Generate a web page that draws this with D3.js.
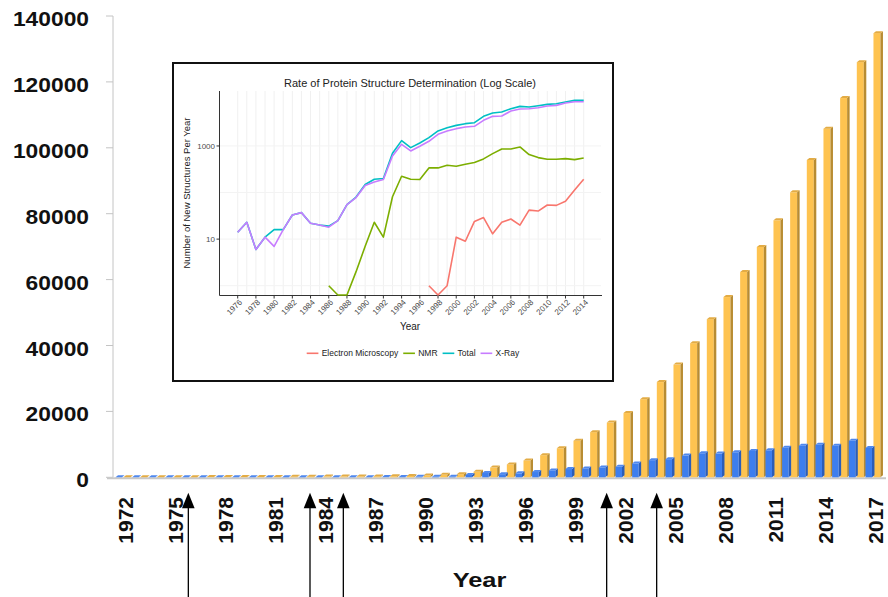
<!DOCTYPE html>
<meta charset="utf-8">
<style>
body { margin: 0; background: #fff; }
svg { display: block; font-family: "Liberation Sans", Arial, sans-serif; }
</style>
<body>
<svg width="888" height="597"></svg>
<script src="https://d3js.org/d3.v7.min.js"></script>
<script>

// main chart: cumulative structures (yellow) and new structures per year (blue)
var years = d3.range(1972, 2018);
var totalStructures = [7, 12, 18, 27, 41, 64, 70, 81, 97, 113, 146, 183, 205, 225, 244, 269, 324, 404, 550, 745,
  945, 1650, 2950, 3900, 5100, 6700, 8800, 11100, 13700, 16600, 19500, 23700, 28900, 34200, 40700, 48000,
  54700, 62300, 69900, 78000, 86500, 96300, 105800, 115100, 126000, 134800];
var newStructures = [7, 5, 6, 9, 14, 23, 6, 11, 16, 16, 33, 37, 22, 20, 19, 25, 55, 80, 150, 195,
  200, 700, 1300, 950, 1200, 1600, 2100, 2500, 2700, 3000, 3200, 4200, 5200, 5500, 6600, 7300,
  7200, 7600, 8000, 8200, 9000, 9600, 9900, 9600, 11100, 8900];
var yTicks = [0, 20000, 40000, 60000, 80000, 100000, 120000, 140000];
var yearLabels = d3.range(1972, 2018, 3);
var arrowYears = [1975.8, 1983.1, 1985.1, 2000.9, 2003.9];

// inset: rate of structure determination (log scale)
var insetYears = d3.range(1976, 2015);
var xrayPerYear = [14, 23, 6, 11, 7, 16, 33, 37, 22, 20, 18, 25, 55, 78, 141, 169, 190,
  610, 1086, 781, 984, 1259, 1778, 2096, 2352, 2552, 2640, 3548, 4323, 4394, 5623, 6207, 6310,
  6626, 7197, 7435, 8343, 8913, 8913];
var totalPerYear = [14, 23, 6, 11, 16, 16, 33, 37, 22, 20, 19, 25, 55, 80, 149, 193, 200,
  700, 1300, 921, 1160, 1510, 2100, 2470, 2770, 3010, 3160, 4320, 5090, 5350, 6310, 7080, 6850,
  7310, 7810, 8070, 8770, 9520, 9520];
var nmrYears = d3.range(1986, 2015);
var nmrPerYear = [1, 0, 0, 2, 7, 23, 11, 81, 224, 193, 190, 338, 338, 385, 367, 405, 440, 527,
  685, 862, 862, 952, 652, 562, 518, 518, 535, 509, 553];
var emYears = d3.range(1997, 2015);
var emPerYear = [1, 0, 1, 11, 9, 24, 29, 13, 23, 27, 20, 42, 40, 54, 53, 65, 113, 193];
var insetLabelYears = d3.range(1976, 2015, 2);
var logTicks = [10, 1000];
var seriesNames = ["Electron Microscopy", "NMR", "Total", "X-Ray"];
var seriesColors = ["#F8766D", "#7CAE00", "#00BFC4", "#C77CFF"];

var svg = d3.select("svg");

var x = d3.scaleBand().domain(years).range([116.7, 883.3]);
var y = d3.scaleLinear().domain([0, 140000]).range([477.3, 16]);
var xc = d3.scaleLinear().domain([1972, 2017]).range([125, 875]);
var y0 = y(0);

// y axis
svg.append("line").attr("x1", 113).attr("x2", 113).attr("y1", y(140000)).attr("y2", y0)
  .attr("stroke", "#c4c4c4").attr("stroke-width", 1);
var yt = svg.append("g").selectAll("g").data(yTicks).enter().append("g");
yt.append("line").attr("x1", 106).attr("x2", 113)
  .attr("y1", function(d) { return y(d); }).attr("y2", function(d) { return y(d); })
  .attr("stroke", "#c4c4c4");
yt.append("text")
  .attr("transform", function(d) { return "translate(89," + (y(d) + 10) + ") scale(1.14,1)"; })
  .attr("text-anchor", "end").attr("font-size", 20).attr("font-weight", "bold").attr("fill", "#111")
  .text(function(d) { return d; });

// floor
svg.append("line").attr("x1", 107).attr("x2", 886).attr("y1", y0 + 1).attr("y2", y0 + 1)
  .attr("stroke", "#c8c8c8").attr("stroke-width", 2);

function bar3d(g, data, off, w, front, side, top) {
  var sel = g.selectAll("g").data(data).enter().append("g");
  var dx = 2.5, dy = 2;
  sel.append("rect")
    .attr("x", function(d) { return x(d.year) + 8.33 + off; })
    .attr("y", function(d) { return y(d.v); })
    .attr("width", w)
    .attr("height", function(d) { return y0 - y(d.v); })
    .attr("fill", front);
  sel.append("path").attr("fill", side).attr("d", function(d) {
    var xr = x(d.year) + 8.33 + off + w, yt = y(d.v);
    return "M" + xr + "," + yt + "L" + (xr + dx) + "," + (yt - dy) + "L" + (xr + dx) + "," + (y0 - dy) + "L" + xr + "," + y0 + "Z";
  });
  sel.append("path").attr("fill", top).attr("d", function(d) {
    var xl = x(d.year) + 8.33 + off, yt = y(d.v);
    return "M" + xl + "," + yt + "L" + (xl + dx) + "," + (yt - dy) + "L" + (xl + w + dx) + "," + (yt - dy) + "L" + (xl + w) + "," + yt + "Z";
  });
}

var yellowData = years.map(function(yr, i) { return {year: yr, v: totalStructures[i]}; });
var blueData = years.map(function(yr, i) { return {year: yr, v: newStructures[i]}; });
bar3d(svg.append("g"), yellowData, -1.5, 7, "#FEC350", "#B88C32", "#E3AC45");
bar3d(svg.append("g"), blueData, -9.5, 6.5, "#3D7EEE", "#2B5DB8", "#4F88EE");

// year labels
svg.append("g").selectAll("text").data(yearLabels).enter().append("text")
  .attr("transform", function(d) { return "translate(" + xc(d) + ",497) rotate(-90)"; })
  .attr("text-anchor", "end").attr("dy", "0.36em")
  .attr("font-size", 21).attr("font-weight", "bold").attr("fill", "#111")
  .text(function(d) { return d; });

svg.append("text").attr("transform", "translate(479.5,587) scale(1.27,1)")
  .attr("text-anchor", "middle").attr("font-size", 20).attr("font-weight", "bold").attr("fill", "#111")
  .text("Year");

// arrows
var arr = svg.append("g").selectAll("g").data(arrowYears).enter().append("g");
arr.append("line").attr("x1", function(d) { return xc(d); }).attr("x2", function(d) { return xc(d); })
  .attr("y1", 600).attr("y2", 506).attr("stroke", "#000").attr("stroke-width", 1.3);
arr.append("path").attr("fill", "#000").attr("d", function(d) {
  var ax = xc(d);
  return "M" + ax + ",492.7L" + (ax - 6.3) + ",508.3L" + (ax + 6.3) + ",508.3Z";
});

// ---- inset ----
var inset = svg.append("g");
inset.append("rect").attr("x", 173).attr("y", 63).attr("width", 440).attr("height", 318)
  .attr("fill", "#fff").attr("stroke", "#111").attr("stroke-width", 2);

var ix = d3.scaleLinear().domain([1976, 2014]).range([237.7, 583.7]);
var iy = d3.scaleLog().domain([Math.pow(10, -0.2), Math.pow(10, 4.18)]).range([295, 91]);

// grid
inset.append("g").selectAll("line").data(insetYears).enter().append("line")
  .attr("x1", function(d) { return ix(d); }).attr("x2", function(d) { return ix(d); })
  .attr("y1", 91).attr("y2", 295).attr("stroke", "#f0f0f0").attr("stroke-width", 1);
inset.append("g").selectAll("line").data([1, 10, 100, 1000]).enter().append("line")
  .attr("x1", 220).attr("x2", 601).attr("y1", function(d) { return iy(d); }).attr("y2", function(d) { return iy(d); })
  .attr("stroke", "#f3f3f3").attr("stroke-width", 1);

// axes
inset.append("line").attr("x1", 219.5).attr("x2", 219.5).attr("y1", 91).attr("y2", 295.5)
  .attr("stroke", "#333").attr("stroke-width", 1);
inset.append("line").attr("x1", 219.5).attr("x2", 602).attr("y1", 295.5).attr("y2", 295.5)
  .attr("stroke", "#333").attr("stroke-width", 1);

inset.append("g").selectAll("line").data(insetLabelYears).enter().append("line")
  .attr("x1", function(d) { return ix(d); }).attr("x2", function(d) { return ix(d); })
  .attr("y1", 295.5).attr("y2", 298.5).attr("stroke", "#333");
inset.append("g").selectAll("text").data(insetLabelYears).enter().append("text")
  .attr("transform", function(d) { return "translate(" + (ix(d) + 2) + ",300) rotate(-45)"; })
  .attr("text-anchor", "end").attr("dy", "0.5em").attr("font-size", 8).attr("fill", "#4d4d4d")
  .text(function(d) { return d; });

inset.append("g").selectAll("line").data(logTicks).enter().append("line")
  .attr("x1", 216.5).attr("x2", 219.5).attr("y1", function(d) { return iy(d); }).attr("y2", function(d) { return iy(d); })
  .attr("stroke", "#333");
inset.append("g").selectAll("text").data(logTicks).enter().append("text")
  .attr("x", 215).attr("y", function(d) { return iy(d); }).attr("dy", "0.35em")
  .attr("text-anchor", "end").attr("font-size", 8).attr("fill", "#4d4d4d")
  .text(function(d) { return d; });

inset.append("text").attr("x", 410).attr("y", 87).attr("text-anchor", "middle")
  .attr("font-size", 11).attr("fill", "#222")
  .text("Rate of Protein Structure Determination (Log Scale)");
inset.append("text").attr("transform", "translate(190,193) rotate(-90)").attr("text-anchor", "middle")
  .attr("font-size", 9.5).attr("fill", "#222").text("Number of New Structures Per Year");
inset.append("text").attr("x", 410).attr("y", 330).attr("text-anchor", "middle")
  .attr("font-size", 10).attr("fill", "#222").text("Year");

// lines
var line = d3.line()
  .x(function(d) { return ix(d.year); })
  .y(function(d) { return d.v > 0 ? iy(d.v) : 295; });

function toPts(yrs, vals) { return yrs.map(function(yr, i) { return {year: yr, v: vals[i]}; }); }
var seriesData = [toPts(emYears, emPerYear), toPts(nmrYears, nmrPerYear),
  toPts(insetYears, totalPerYear), toPts(insetYears, xrayPerYear)];

inset.append("g").selectAll("path").data(seriesData).enter().append("path")
  .attr("d", line).attr("fill", "none")
  .attr("stroke", function(d, i) { return seriesColors[i]; })
  .attr("stroke-width", 1.6).attr("stroke-linejoin", "round");

// legend
var lx = 306.7;
var leg = inset.append("g");
seriesNames.forEach(function(name, i) {
  leg.append("line").attr("x1", lx).attr("x2", lx + 11.7).attr("y1", 353.3).attr("y2", 353.3)
    .attr("stroke", seriesColors[i]).attr("stroke-width", 1.6);
  var t = leg.append("text").attr("x", lx + 15).attr("y", 353.3).attr("dy", "0.35em")
    .attr("font-size", 8.5).attr("fill", "#222").text(name);
  lx += 15 + t.node().getComputedTextLength() + 5;
});

</script>
</body>
